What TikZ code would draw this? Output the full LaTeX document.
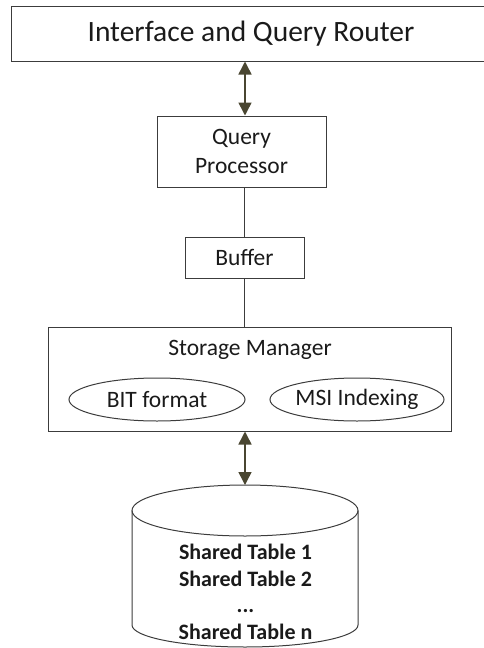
\documentclass[tikz,border=0pt]{standalone}
\usepackage{fontspec}
\setmainfont{Carlito}
\usetikzlibrary{arrows.meta,shapes.geometric}
\definecolor{boxline}{HTML}{3C3C3C}
\definecolor{arrowc}{HTML}{4A4631}
\definecolor{txt}{HTML}{1A1A1A}
\tikzset{
  box/.style={draw=boxline, line width=1pt, rectangle, inner sep=0pt, text=txt, align=center},
  oval/.style={draw=boxline, line width=1pt, ellipse, inner sep=0pt, text=txt},
  conn/.style={draw=boxline, line width=1pt},
  dbl/.style={draw=arrowc, line width=1.5pt, {Triangle[width=13pt,length=13pt]}-{Triangle[width=13pt,length=13pt]}, arrowc},
  mid/.style={font=\fontsize{23.5}{29}\selectfont},
}
\begin{document}
\begin{tikzpicture}[x=1pt,y=1pt]
\useasboundingbox (0,0) rectangle (484,-648);
\node[box, minimum width=480, minimum height=55, font=\fontsize{29.5}{34}\selectfont] (top) at (251,-33.5) {Interface and Query Router};
\node[box, mid, minimum width=169, minimum height=71] (qp) at (241.5,-151.5) {Query\\Processor};
\node[box, mid, minimum width=119, minimum height=41] (buf) at (244.5,-257.5) {Buffer};
\node[box, minimum width=403, minimum height=104] (sm) at (249.5,-379) {};
\node[text=txt, mid] (smlabel) at (250,-350) {Storage Manager};
\node[oval, mid, minimum width=176, minimum height=43] (bit) at (157,-399.5) {BIT format};
\node[oval, mid, minimum width=172, minimum height=43] (msi) at (357,-399.5) {MSI Indexing};
% cylinder
\coordinate (dbtop) at (245,-485);
\draw[boxline, line width=1pt] (132,-510.5) -- (132,-625) arc[start angle=180, end angle=360, x radius=113, y radius=22] -- (358,-510.5);
\draw[boxline, line width=1pt] (245,-510.5) ellipse [x radius=113, y radius=25.5];
\node[text=txt, align=center, font=\bfseries\fontsize{22}{26.7}\selectfont] (db) at (245.5,-592) {Shared Table 1\\Shared Table 2\\...\\Shared Table n};
% connectors
\draw[dbl] (top.south -| 245,0) -- (qp.north -| 245,0);
\draw[conn] (244,0 |- qp.south) -- (244,0 |- buf.north);
\draw[conn] (244,0 |- buf.south) -- (244,0 |- sm.north);
\draw[dbl] (sm.south -| dbtop) -- (dbtop);
\end{tikzpicture}
\end{document}
